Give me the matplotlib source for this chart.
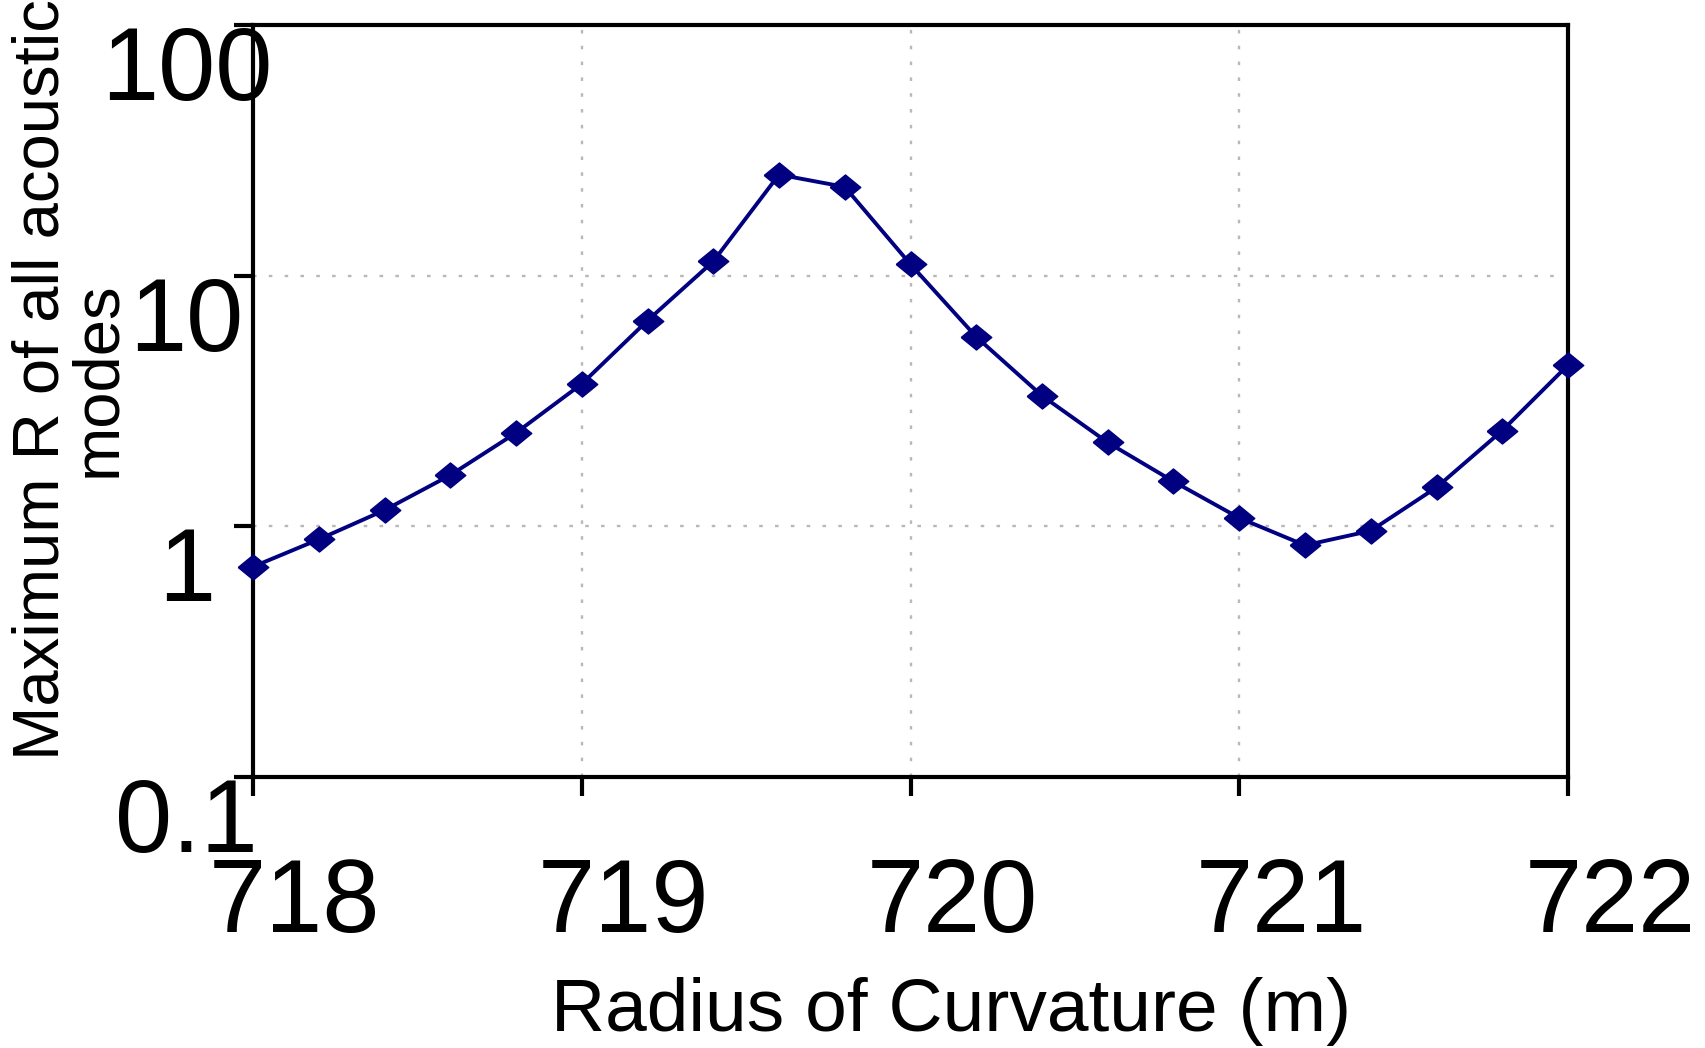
import numpy as np
import matplotlib
matplotlib.use("Agg")
import matplotlib.pyplot as plt
from matplotlib.transforms import ScaledTranslation

plt.rcParams['font.family'] = ['Liberation Sans', 'DejaVu Sans']

# ---- data ----
radius = [718.0, 718.2, 718.4, 718.6, 718.8, 719.0, 719.2, 719.4, 719.6, 719.8,
          720.0, 720.2, 720.4, 720.6, 720.8, 721.0, 721.2, 721.4, 721.6, 721.8, 722.0]
max_r = [0.69, 0.887, 1.16, 1.60, 2.36, 3.70, 6.62, 11.4, 25.3, 22.6,
         11.1, 5.70, 3.32, 2.16, 1.51, 1.08, 0.84, 0.96, 1.43, 2.41, 4.40]
x_ticks = [718, 719, 720, 721, 722]
x_ticklabels = ['718', '719', '720', '721', '722']
y_ticks = [0.1, 1, 10, 100]
y_ticklabels = ['0.1', '1', '10', '100']
x_label = 'Radius of Curvature (m)'
y_label = 'Maximum R of all acoustic\nmodes'

W, H, DPI = 1705, 1048, 100
fig = plt.figure(figsize=(W / DPI, H / DPI), dpi=DPI)
ax = fig.add_axes([253 / W, 1 - 777 / H, 1315 / W, 752 / H])

navy = '#000080'
diamond = [(-1, 0), (0, 0.82), (1, 0), (0, -0.82), (-1, 0)]
ax.plot(radius, max_r, color=navy, lw=2.8, marker=diamond, ms=22,
        mfc=navy, mec=navy, mew=1, zorder=3, clip_on=False)

ax.set_yscale('log')
ax.set_xlim(718, 722)
ax.set_ylim(0.1, 100)

ax.set_xticks(x_ticks)
ax.set_xticklabels(x_ticklabels)
ax.set_yticks(y_ticks)
ax.set_yticklabels(y_ticklabels)
ax.yaxis.set_minor_locator(matplotlib.ticker.NullLocator())

ax.grid(True, which='major', color='#b8b8b8', lw=1.7, linestyle=(0, (1.5, 5.2)))
ax.set_axisbelow(True)

for s in ax.spines.values():
    s.set_linewidth(3.0)
    s.set_color('black')

ax.tick_params(axis='both', which='major', direction='out', length=14, width=3.0,
               labelsize=74, colors='black')
ax.tick_params(axis='x', pad=43.5)
ax.tick_params(axis='y', pad=34)

plt.setp(ax.get_yticklabels(), ha='center', va='top')
off = ScaledTranslation(0.42, 0, fig.dpi_scale_trans)
for lab in ax.get_xticklabels():
    lab.set_transform(lab.get_transform() + off)

ax.set_xlabel(x_label, fontsize=54, va='top', ha='center')
ax.xaxis.set_label_coords(0.5308, -0.2660)
ax.set_ylabel(y_label, fontsize=47, va='center', ha='center',
              multialignment='center', linespacing=0.93)
ax.yaxis.set_label_coords(-0.1392, 0.529)

fig.savefig('out.png', dpi=DPI)
